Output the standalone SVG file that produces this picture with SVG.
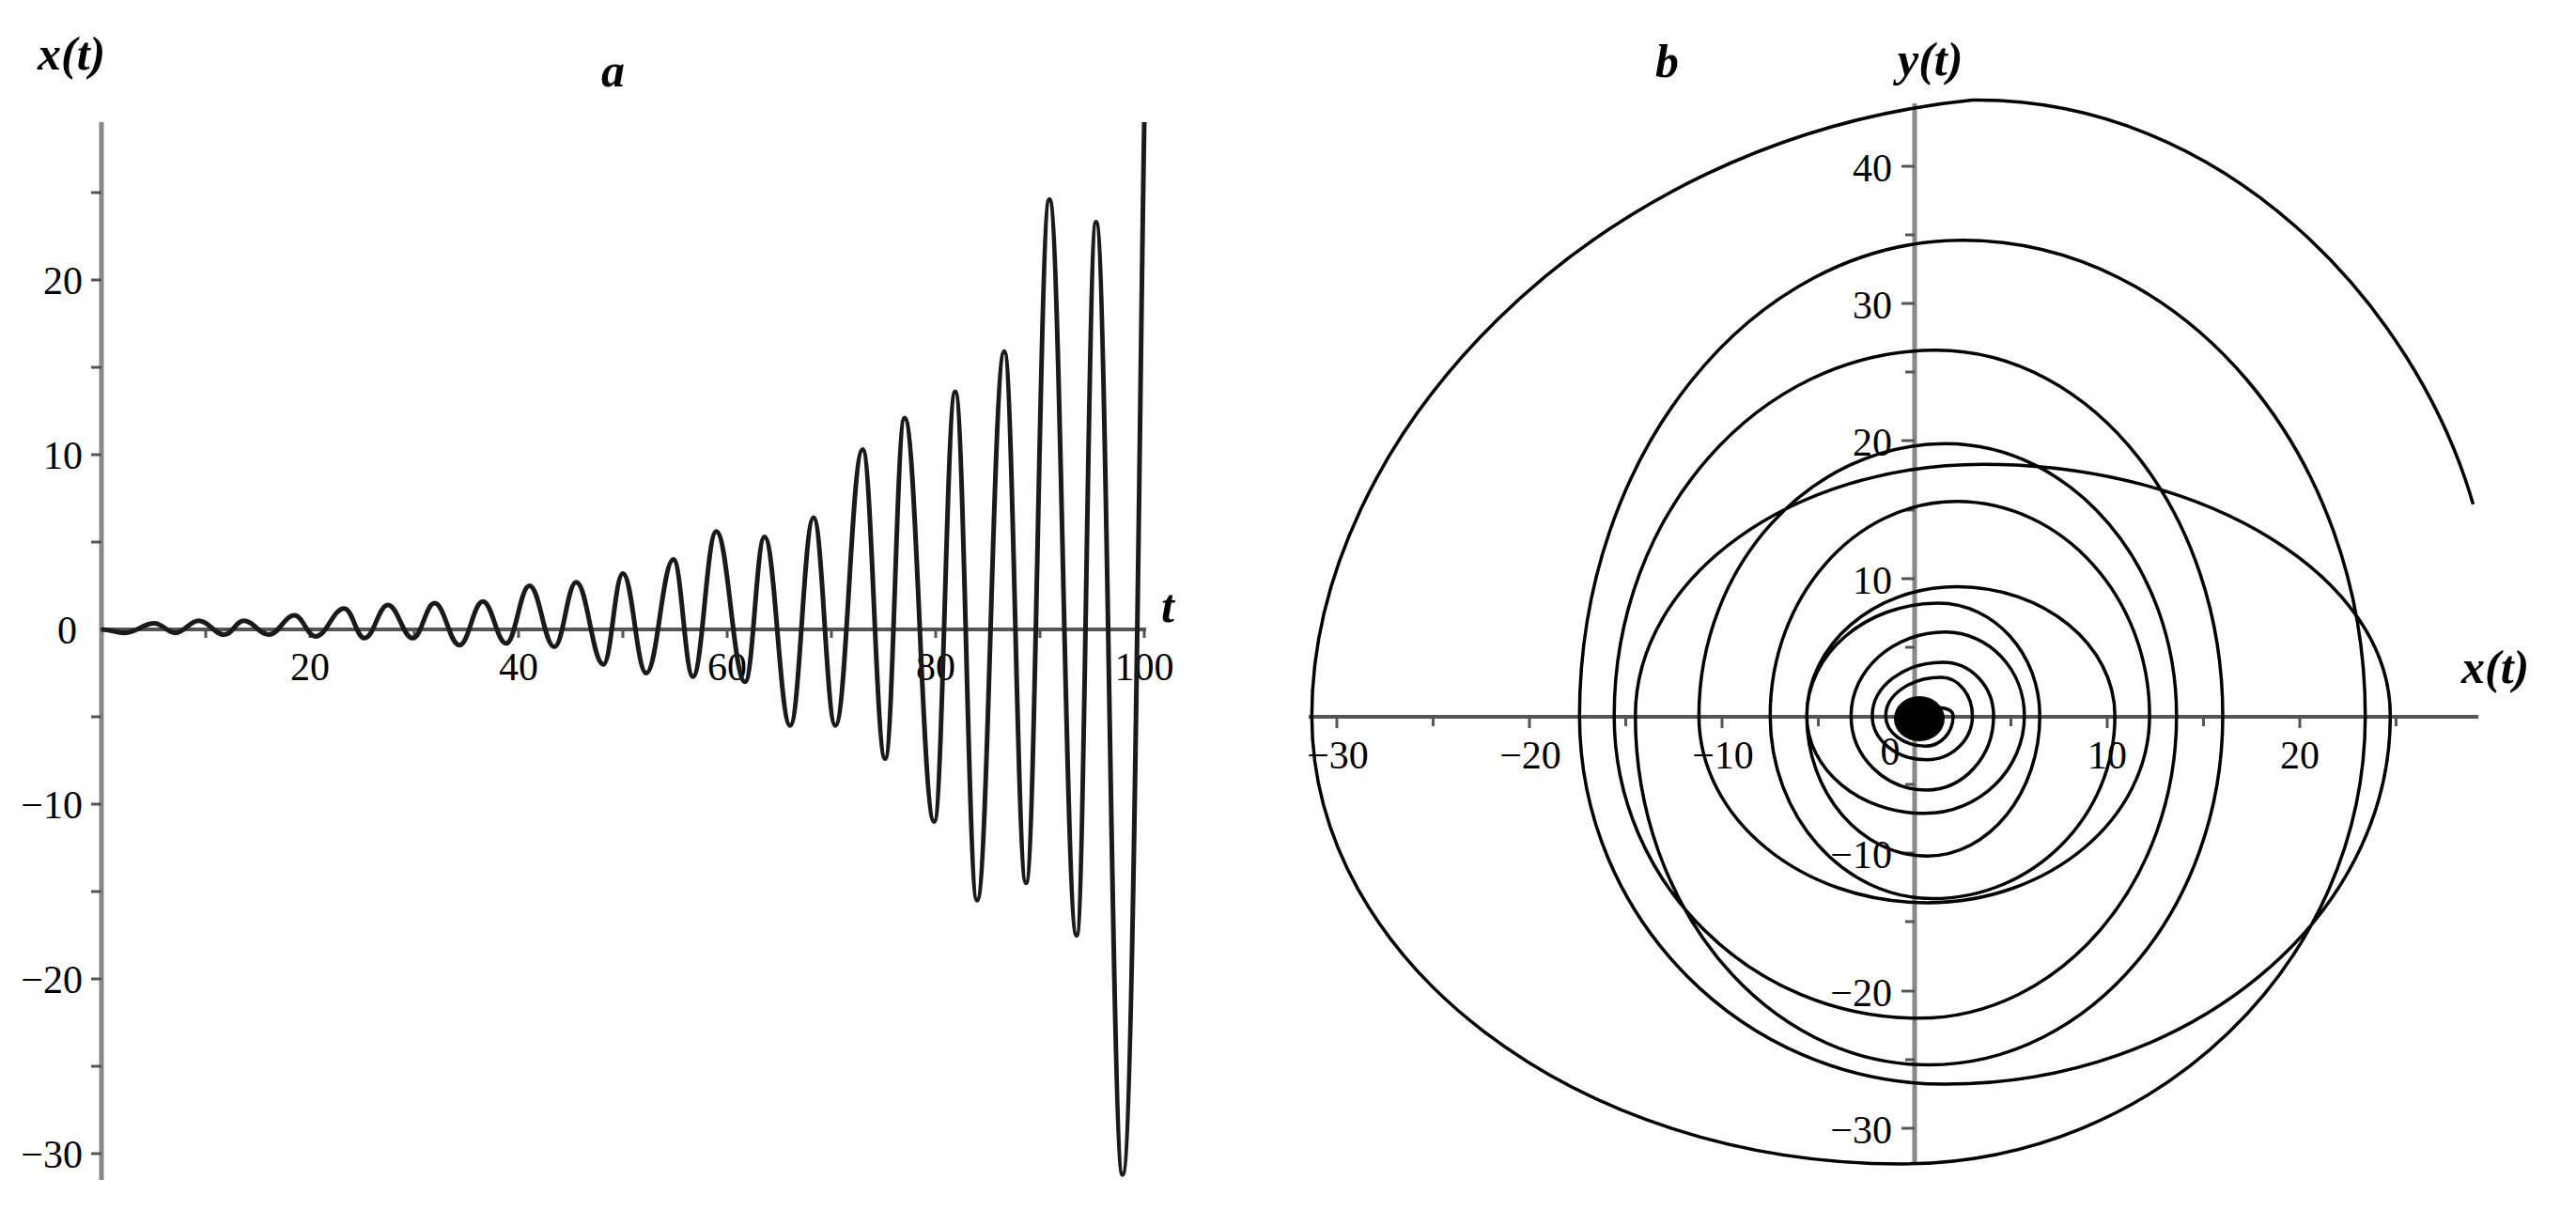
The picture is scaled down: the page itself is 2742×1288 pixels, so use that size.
<svg xmlns="http://www.w3.org/2000/svg" width="2742" height="1288" viewBox="0 0 2742 1288">
<style>
.ax{stroke:#888;stroke-width:5;fill:none}
.axh{stroke:#555;stroke-width:4;fill:none}
.tk{stroke:#555;stroke-width:3}
.num{font-family:"Liberation Serif",serif;font-size:42px;fill:#000}
.lab{font-family:"Liberation Serif",serif;font-size:50px;font-weight:bold;font-style:italic;fill:#000}
.cv{fill:none;stroke:#1a1a1a;stroke-width:5;stroke-linejoin:round}
.cv2{fill:none;stroke:#000;stroke-width:3.5;vector-effect:non-scaling-stroke;stroke-linejoin:round}
</style>
<rect width="2742" height="1288" fill="#fff"/>
<g id="plot-a">
<line class="ax" x1="108" y1="130" x2="108" y2="1256"/>
<line class="axh" x1="106" y1="670" x2="1220" y2="670"/>
<g class="tk">
<line x1="97" y1="205.0" x2="108" y2="205.0"/><line x1="97" y1="298" x2="108" y2="298"/><line x1="97" y1="391" x2="108" y2="391"/><line x1="97" y1="484" x2="108" y2="484"/><line x1="97" y1="577" x2="108" y2="577"/><line x1="97" y1="763" x2="108" y2="763"/><line x1="97" y1="856" x2="108" y2="856"/><line x1="97" y1="949" x2="108" y2="949"/><line x1="97" y1="1042" x2="108" y2="1042"/><line x1="97" y1="1135" x2="108" y2="1135"/><line x1="97" y1="1228" x2="108" y2="1228"/>
<line x1="219" y1="670" x2="219" y2="679"/><line x1="330" y1="670" x2="330" y2="679"/><line x1="441" y1="670" x2="441" y2="679"/><line x1="552" y1="670" x2="552" y2="679"/><line x1="663" y1="670" x2="663" y2="679"/><line x1="774" y1="670" x2="774" y2="679"/><line x1="885" y1="670" x2="885" y2="679"/><line x1="996" y1="670" x2="996" y2="679"/><line x1="1107" y1="670" x2="1107" y2="679"/><line x1="1218" y1="670" x2="1218" y2="679"/>
</g>
<g class="num" text-anchor="end">
<text x="88" y="313">20</text><text x="88" y="499">10</text><text x="82" y="685">0</text><text x="88" y="871">−10</text><text x="88" y="1057">−20</text><text x="88" y="1243">−30</text>
</g>
<g class="num" text-anchor="middle">
<text x="330" y="724">20</text><text x="552" y="724">40</text><text x="774" y="724">60</text><text x="996" y="724">80</text><text x="1218" y="724">100</text>
</g>
<text class="lab" x="40" y="74">x(t)</text>
<text class="lab" x="640" y="92">a</text>
<text class="lab" x="1236" y="662">t</text>
<path class="cv" d="M108,670 C118,670 122.9,673.7 132.9,673.7 C145.5,673.7 151.7,663.5 164.3,663.5 C173.3,663.5 177.7,673.7 186.7,673.7 C196.7,673.7 201.6,660.7 211.6,660.7 C222.5,660.7 228,675.6 238.9,675.6 C247.2,675.6 251.3,660.7 259.6,660.7 C270.2,660.7 275.5,675.6 286.1,675.6 C297,675.6 302.5,655.1 313.4,655.1 C322.4,655.1 326.8,677.4 335.8,677.4 C348.1,677.4 354.2,647.7 366.5,647.7 C375.1,647.7 379.4,679.3 388,679.3 C398,679.3 402.9,644 412.9,644 C423.5,644 428.8,679.3 439.4,679.3 C448.7,679.3 453.3,642.1 462.6,642.1 C473.2,642.1 478.5,686.7 489.1,686.7 C499,686.7 504,640.2 513.9,640.2 C523.9,640.2 528.8,684.9 538.8,684.9 C548.7,684.9 553.7,623.5 563.6,623.5 C574.2,623.5 579.5,688.6 590.1,688.6 C599.4,688.6 604,619.8 613.3,619.8 C624.9,619.8 630.7,707.2 642.3,707.2 C650.6,707.2 654.7,610.5 663,610.5 C673,610.5 677.9,716.5 687.9,716.5 C699.5,716.5 705.3,595.6 716.9,595.6 C725.2,595.6 729.3,720.2 737.6,720.2 C747.5,720.2 752.5,565.8 762.4,565.8 C774.7,565.8 780.8,725.8 793.1,725.8 C801.4,725.8 805.5,571.4 813.8,571.4 C824.7,571.4 830.2,772.3 841.1,772.3 C851.1,772.3 856,551 866,551 C875.3,551 879.9,772.3 889.2,772.3 C900.8,772.3 906.6,478.4 918.2,478.4 C927.8,478.4 932.6,807.6 942.2,807.6 C950.5,807.6 954.6,444.9 962.9,444.9 C975.5,444.9 981.8,874.6 994.4,874.6 C1003.4,874.6 1007.8,417 1016.8,417 C1026.1,417 1030.7,958.3 1040,958.3 C1051.6,958.3 1057.4,374.3 1069,374.3 C1078.2,374.3 1082.9,939.7 1092.1,939.7 C1102.1,939.7 1107,212.4 1117,212.4 C1128.6,212.4 1134.4,995.5 1146,995.5 C1154.3,995.5 1158.4,236.6 1166.7,236.6 C1178,236.6 1183.6,1250.3 1194.9,1250.3 C1206,1250.3 1213,420 1218,130"/>
</g>
<g id="plot-b">
<line class="ax" x1="2038" y1="110" x2="2038" y2="1240"/>
<line class="axh" x1="1393" y1="763" x2="2638" y2="763"/>
<g class="tk">
<line x1="1423" y1="763" x2="1423" y2="775"/><line x1="1525.5" y1="763" x2="1525.5" y2="773"/><line x1="1628" y1="763" x2="1628" y2="775"/><line x1="1730.5" y1="763" x2="1730.5" y2="773"/><line x1="1833" y1="763" x2="1833" y2="775"/><line x1="1935.5" y1="763" x2="1935.5" y2="773"/><line x1="2140.5" y1="763" x2="2140.5" y2="773"/><line x1="2243" y1="763" x2="2243" y2="775"/><line x1="2345.5" y1="763" x2="2345.5" y2="773"/><line x1="2448" y1="763" x2="2448" y2="775"/><line x1="2550.5" y1="763" x2="2550.5" y2="773"/>
<line x1="2024" y1="177" x2="2038" y2="177"/><line x1="2028" y1="250" x2="2038" y2="250"/><line x1="2024" y1="323" x2="2038" y2="323"/><line x1="2028" y1="396" x2="2038" y2="396"/><line x1="2024" y1="469" x2="2038" y2="469"/><line x1="2028" y1="543" x2="2038" y2="543"/><line x1="2024" y1="616" x2="2038" y2="616"/><line x1="2028" y1="689" x2="2038" y2="689"/><line x1="2028" y1="835" x2="2038" y2="835"/><line x1="2024" y1="908" x2="2038" y2="908"/><line x1="2028" y1="981" x2="2038" y2="981"/><line x1="2024" y1="1055" x2="2038" y2="1055"/><line x1="2028" y1="1128" x2="2038" y2="1128"/><line x1="2024" y1="1201" x2="2038" y2="1201"/>
</g>
<g class="num" text-anchor="middle">
<text x="1424" y="818">−30</text><text x="1629" y="818">−20</text><text x="1834" y="818">−10</text><text x="2012" y="814">0</text><text x="2243" y="818">10</text><text x="2448" y="818">20</text>
</g>
<g class="num" text-anchor="end">
<text x="2014" y="193">40</text><text x="2014" y="339">30</text><text x="2014" y="485">20</text><text x="2014" y="632">10</text><text x="2014" y="924">−10</text><text x="2014" y="1071">−20</text><text x="2014" y="1217">−30</text>
</g>
<text class="lab" x="1762" y="82">b</text>
<text class="lab" x="2020" y="80">y(t)</text>
<text class="lab" x="2620" y="727">x(t)</text>
<ellipse cx="2043" cy="765" rx="27" ry="24" fill="#000"/>
<g transform="translate(2038,762) scale(20.5,-14.63)">
<path class="cv2" d="M0,0 C0.5,0.8 2,0.8 2,0 C2,-1.21 1.36,-2.2 .58,-2.2 C-.56,-2.2 -1.5,-1.21 -1.5,0 C-1.5,1.54 -.2,2.8 1.38,2.8 C2.27,2.8 3,1.54 3,0 C3,-1.76 1.93,-3.2 .62,-3.2 C-.93,-3.2 -2.2,-1.76 -2.2,0 C-2.2,2.15 -.54,3.9 1.48,3.9 C2.92,3.9 4.1,2.15 4.1,0 C4.1,-2.97 2.53,-5.4 .62,-5.4 C-1.54,-5.4 -3.3,-2.97 -3.3,0 C-3.3,3.36 -1.1,6.1 1.6,6.1 C3.86,6.1 5.7,3.36 5.7,0 C5.7,-3.9 3.37,-7.1 .52,-7.1 C-2.85,-7.1 -5.6,-3.9 -5.6,0 C-5.6,4.51 -2.53,8.2 1.23,8.2 C4.13,8.2 6.5,4.51 6.5,0 C6.5,-5.61 3.86,-10.2 .64,-10.2 C-2.79,-10.2 -5.6,-5.61 -5.6,0 C-5.6,5.17 -2.09,9.4 2.2,9.4 C6.71,9.4 10.4,5.17 10.4,0 C10.4,-7.32 6.14,-13.3 .94,-13.3 C-3.7,-13.3 -7.5,-7.32 -7.5,0 C-7.5,8.58 -3.14,15.6 2.18,15.6 C7.69,15.6 12.2,8.58 12.2,0 C12.2,-7.48 7,-13.6 .65,-13.6 C-5.87,-13.6 -11.2,-7.48 -11.2,0 C-11.2,10.89 -5.44,19.8 1.6,19.8 C8.2,19.8 13.6,10.89 13.6,0 C13.6,-12.1 7.57,-22 .2,-22 C-8.49,-22 -15.6,-12.1 -15.6,0 C-15.6,14.63 -8.09,26.6 1.1,26.6 C9.3,26.6 16,14.63 16,0 C16,-13.97 9.12,-25.4 .72,-25.4 C-7.65,-25.4 -14.5,-13.97 -14.5,0 C-14.5,10.07 -6.38,18.3 3.55,18.3 C15.18,18.3 24.7,10.07 24.7,0 C24.7,-14.74 14.31,-26.8 1.6,-26.8 C-8.85,-26.8 -17.4,-14.74 -17.4,0 C-17.4,19.03 -8.45,34.6 2.5,34.6 C13.99,34.6 23.4,19.03 23.4,0 C23.4,-17.93 12.56,-32.6 -.7,-32.6 C-17.53,-32.6 -31.3,-17.93 -31.3,0 C-31.3,20 -17,42 3,44.8 C16,45 26,30 29,15.4"/>
</g>
</g>
</svg>
